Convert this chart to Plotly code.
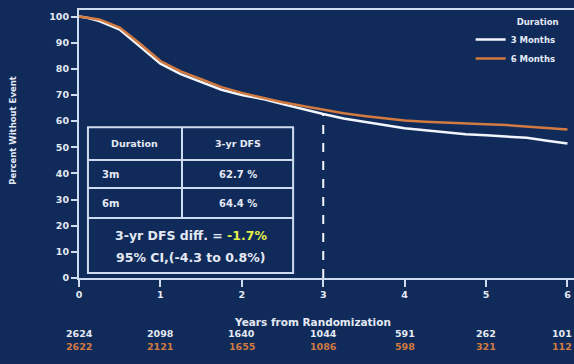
import plotly.graph_objects as go

# Kaplan-Meier estimates (percent without event) by treatment duration
years = [0, 0.1, 0.25, 0.5, 0.75, 1.0, 1.25, 1.5, 1.75, 2.0, 2.25, 2.5, 2.75,
         3.0, 3.25, 3.5, 3.75, 4.0, 4.25, 4.5, 4.75, 5.0, 5.25, 5.5, 5.75, 6.0]
dfs_3m = [100, 99.5, 98.3, 95, 88.5, 82, 78, 75, 72, 70, 68.5, 66.5, 64.5,
          62.7, 61, 59.8, 58.5, 57.3, 56.5, 55.8, 55, 54.6, 54.2, 53.6, 52.5, 51.4]
dfs_6m = [100, 99.6, 98.9, 95.8, 89.6, 83, 79, 76, 73, 70.8, 69, 67.2, 65.8,
          64.4, 63, 62, 61, 60.2, 59.8, 59.4, 59, 58.8, 58.5, 58, 57.5, 56.8]

series_names = ["3 Months", "6 Months"]

# Numbers at risk at each year
risk_years = [0, 1, 2, 3, 4, 5, 6]
at_risk_3m = ["2624", "2098", "1640", "1044", "591", "262", "101"]
at_risk_6m = ["2622", "2121", "1655", "1086", "598", "321", "112"]

# Summary table
table_header = ["Duration", "3-yr DFS"]
table_arms = ["3m", "6m"]
table_dfs = [62.7, 64.4]
dfs_diff = -1.7
ci_low, ci_high = -4.3, 0.8
landmark_year = 3

BG = "#102b5a"
FG = "#e4e9f4"
WHITE = "#f2f5fb"
ORANGE = "#d27a40"
LINE = "#cfdcef"
FONT = "DejaVu Sans"


def font(size, color=FG):
    return dict(family=FONT, size=size, color=color, weight="bold")


fig = go.Figure()
fig.add_trace(go.Scatter(x=years, y=dfs_3m, mode="lines", name=series_names[0],
                         line=dict(color=WHITE, width=2.5)))
fig.add_trace(go.Scatter(x=years, y=dfs_6m, mode="lines", name=series_names[1],
                         line=dict(color=ORANGE, width=2.5)))

# dashed landmark at 3 years
fig.add_shape(type="line", x0=landmark_year, x1=landmark_year, y0=0, y1=table_dfs[0],
              line=dict(color=WHITE, width=2, dash="dash"), layer="above")

# summary table grid
tx0, tx1, tdiv = 0.11, 2.63, 1.265
ty = [57.7, 45.1, 34.4, 22.9, 1.9]
fig.add_shape(type="rect", x0=tx0, x1=tx1, y0=ty[4], y1=ty[0],
              line=dict(color=LINE, width=2), fillcolor=BG, layer="above")
for yy in ty[1:4]:
    fig.add_shape(type="line", x0=tx0, x1=tx1, y0=yy, y1=yy,
                  line=dict(color=LINE, width=2), layer="above")
fig.add_shape(type="line", x0=tdiv, x1=tdiv, y0=ty[3], y1=ty[0],
              line=dict(color=LINE, width=2), layer="above")

cx_left = (tx0 + tdiv) / 2
cx_right = (tdiv + tx1) / 2
fig.add_annotation(x=cx_left, y=(ty[0] + ty[1]) / 2, text=table_header[0],
                   showarrow=False, font=font(9.5))
fig.add_annotation(x=cx_right, y=(ty[0] + ty[1]) / 2, text=table_header[1],
                   showarrow=False, font=font(9.5))
for i, arm in enumerate(table_arms):
    ymid = (ty[i + 1] + ty[i + 2]) / 2
    fig.add_annotation(x=tx0 + 0.15, y=ymid, text=arm, xanchor="left",
                       showarrow=False, font=font(10))
    fig.add_annotation(x=cx_right, y=ymid, text=f"{table_dfs[i]} %",
                       showarrow=False, font=font(10))

fig.add_annotation(x=(tx0 + tx1) / 2, y=16.2,
                   text=f"3-yr DFS diff. = <span style='color:#e3f04a'>{dfs_diff}%</span>",
                   showarrow=False, font=font(12.5))
fig.add_annotation(x=(tx0 + tx1) / 2, y=7.8,
                   text=f"95% CI,({ci_low} to {ci_high}%)",
                   showarrow=False, font=font(12.5))

# numbers at risk (the last column is right-aligned so it stays on the page)
for yr, a, b in zip(risk_years, at_risk_3m, at_risk_6m):
    anchor = "right" if yr == risk_years[-1] else "center"
    xpos = 6.08 if yr == risk_years[-1] else yr
    fig.add_annotation(x=xpos, y=-0.207, yref="paper", yanchor="middle", xanchor=anchor,
                       text=a, showarrow=False, font=font(9.5))
    fig.add_annotation(x=xpos, y=-0.257, yref="paper", yanchor="middle", xanchor=anchor,
                       text=b, showarrow=False, font=font(9.5, ORANGE))

# axis titles
fig.add_annotation(x=2.87, y=-0.164, yref="paper", yanchor="middle",
                   text="Years from Randomization", showarrow=False, font=font(10.5))
fig.add_annotation(x=-0.135, xref="paper", xanchor="center", y=0.55, yref="paper",
                   text="Percent Without Event", textangle=-90, showarrow=False,
                   font=font(8.5))

fig.update_layout(
    width=574, height=364,
    margin=dict(l=79, r=0, t=10, b=86),
    paper_bgcolor=BG, plot_bgcolor=BG,
    font=dict(family=FONT, size=9, color=FG),
    showlegend=True,
    legend=dict(x=0.973, y=0.985, xanchor="right", yanchor="top",
                bgcolor="rgba(0,0,0,0)",
                title=dict(text="Duration", side="top right", font=font(8.5)),
                font=font(8.5), tracegroupgap=0, itemwidth=30),
    xaxis=dict(range=[0, 6.08], tickvals=risk_years, showgrid=False, zeroline=False,
               showline=True, linecolor=LINE, linewidth=2, mirror=True,
               ticks="outside", ticklen=7, tickwidth=2, tickcolor=LINE,
               tickfont=font(9.5)),
    yaxis=dict(range=[0, 102.5], tickvals=list(range(0, 101, 10)), showgrid=False,
               zeroline=False, showline=True, linecolor=LINE, linewidth=2,
               ticks="outside", ticklen=6, tickwidth=2, tickcolor=LINE,
               tickfont=font(9.5)),
)

fig.write_html("out.html")
